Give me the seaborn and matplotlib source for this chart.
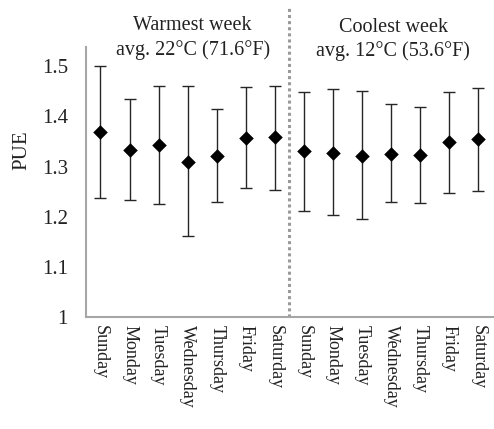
import matplotlib.pyplot as plt
import pandas as pd
import seaborn as sns
from matplotlib.ticker import FixedLocator, NullFormatter

# values
days = ["Sunday", "Monday", "Tuesday", "Wednesday", "Thursday", "Friday", "Saturday"]
warm_mean = [1.368, 1.333, 1.343, 1.309, 1.321, 1.357, 1.358]
warm_upper = [1.500, 1.434, 1.461, 1.461, 1.414, 1.459, 1.460]
warm_lower = [1.237, 1.233, 1.225, 1.161, 1.230, 1.257, 1.254]
cool_mean = [1.331, 1.328, 1.321, 1.326, 1.324, 1.348, 1.355]
cool_upper = [1.448, 1.455, 1.450, 1.425, 1.419, 1.448, 1.456]
cool_lower = [1.212, 1.203, 1.195, 1.229, 1.228, 1.248, 1.252]

df = pd.DataFrame({
    "slot": list(range(14)),
    "day": days + days,
    "pue": warm_mean + cool_mean,
    "upper": warm_upper + cool_upper,
    "lower": warm_lower + cool_lower,
})

sns.set_style("white")
plt.rcParams["font.family"] = ["Liberation Serif", "DejaVu Serif"]
txt = "#222222"
grey = "#a6a6a6"

fig = plt.figure(figsize=(4.94, 4.29), dpi=100)
ax = fig.add_axes([0.174, 0.261, 0.824, 0.629])

# error bars (asymmetric, precomputed)
ax.errorbar(df["slot"], df["pue"],
            yerr=[df["pue"] - df["lower"], df["upper"] - df["pue"]],
            fmt="none", ecolor="#262626", elinewidth=1.0, capsize=4, capthick=1.0,
            zorder=2)
sns.scatterplot(data=df, x="slot", y="pue", marker="D", s=55, color="black",
                edgecolor="black", linewidth=0, ax=ax, zorder=3)

ax.set_xlim(-0.5, 13.5)
ax.set_ylim(1.0, 1.538)
ax.set_yticks([1.0, 1.1, 1.2, 1.3, 1.4, 1.5])
ax.set_yticklabels(["1", "1.1", "1.2", "1.3", "1.4", "1.5"], fontsize=15, color=txt)

ax.set_xticks(df["slot"])
ax.set_xticklabels(df["day"], rotation=-90, fontsize=13, color=txt)
ax.xaxis.set_minor_locator(FixedLocator([i - 0.5 for i in range(15)]))
ax.xaxis.set_minor_formatter(NullFormatter())
ax.tick_params(axis="x", which="major", length=0, pad=6)
ax.tick_params(axis="x", which="minor", length=5, width=1.5, color=grey, direction="out")
ax.tick_params(axis="y", length=5, width=1.5, color=grey, direction="out", pad=8)

ax.set_xlabel("")
ax.set_ylabel("PUE", fontsize=15, color=txt)
ax.yaxis.set_label_coords(-0.133, 0.62)

for side in ["top", "right"]:
    ax.spines[side].set_visible(False)
for side in ["left", "bottom"]:
    ax.spines[side].set_color(grey)
    ax.spines[side].set_linewidth(1.5)

# divider between the two weeks
ax.axvline(6.5, ymin=0, ymax=1.148, color="#9a9a9a", linestyle=(0, (1, 1)),
           linewidth=2.2, clip_on=False, zorder=1)

ax.text(0.262, 1.081, "Warmest week", transform=ax.transAxes, ha="center",
        va="center", fontsize=14.5, color=txt)
ax.text(0.262, 0.989, "avg. 22°C (71.6°F)", transform=ax.transAxes, ha="center",
        va="center", fontsize=14.5, color=txt)
ax.text(0.755, 1.074, "Coolest week", transform=ax.transAxes, ha="center",
        va="center", fontsize=14.5, color=txt)
ax.text(0.755, 0.985, "avg. 12°C (53.6°F)", transform=ax.transAxes, ha="center",
        va="center", fontsize=14.5, color=txt)

fig.savefig("out.png", dpi=100)
